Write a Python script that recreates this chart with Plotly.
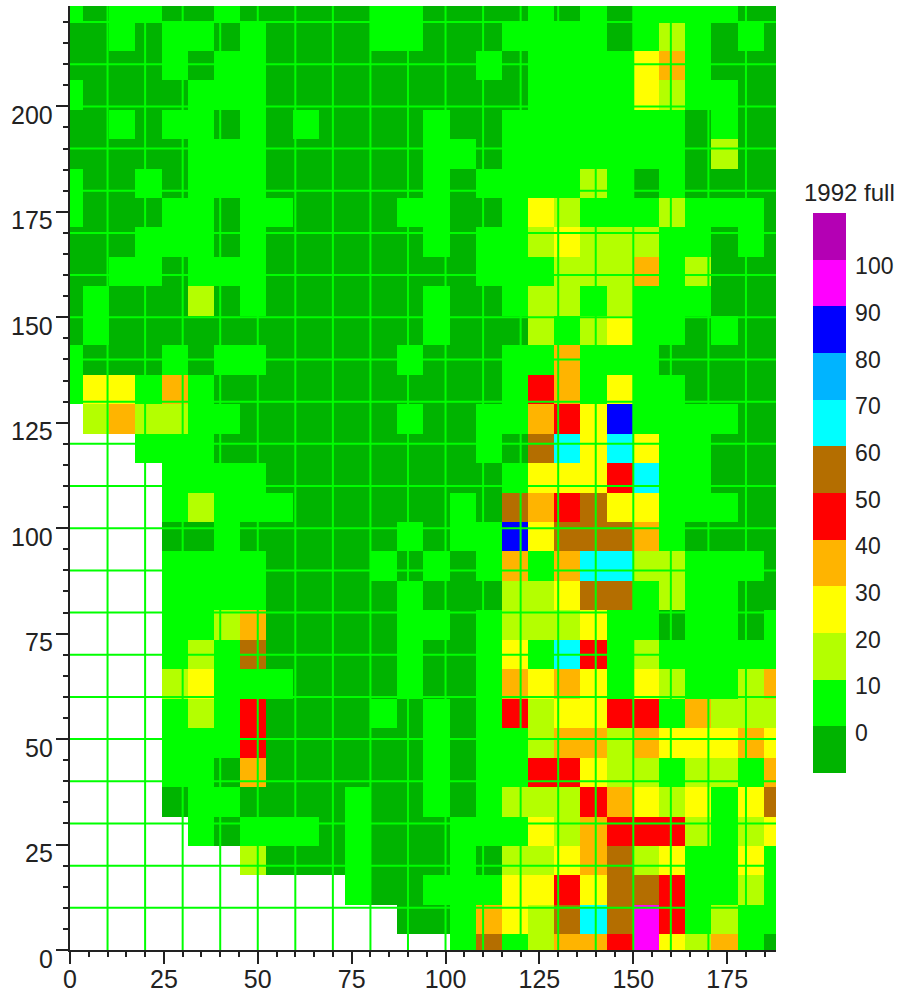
import plotly.graph_objects as go

# Level code per cell; rows run from y = 0 upward, columns from x = 0 rightward.
ROWS = [
    "........." + "......bgb" + "ceefkdceba",
    "........." + "....aabed" + "cghgkfbcbb",
    "........." + "..baabbbd" + "dfdggfbbcb",
    ".......ca" + "aabaaabac" + "cdegcdbbdb",
    ".....babb" + "babaaabbb" + "dcefffcbcd",
    "....abbaa" + "aabaababc" + "ccfedcdbdg",
    "....bbaea" + "aaaaababb" + "ffdccbccbe",
    "....bbbfa" + "aaaaababb" + "ceeceddded",
    "....bcbfa" + "aaabababf" + "cddffbeccc",
    "....cdbbb" + "aaaabaabe" + "dedbdcbbce",
    "....bcbga" + "aaaabaabd" + "bhfbcbbbbb",
    "....bbcea" + "aaaabbabc" + "ccdbbabbab",
    "....bbbba" + "aaaabaaac" + "cdggbcbbaa",
    "....bbbba" + "aaabababe" + "behhccbbba",
    "....aabaa" + "aaaababbj" + "dgggebaaaa",
    "....bcbbb" + "aaaaaabag" + "efgddbbbaa",
    "....bbbba" + "aaaaaaaab" + "dddfhbbaaa",
    "...bbbaaa" + "aaaaaaaba" + "ghdhdbbaaa",
    ".ceccbbaa" + "aaaabaabb" + "efdjbbbbaa",
    "bddbebaaa" + "aaaaaaaab" + "febdbbaaaa",
    "baaababba" + "aaaabaaab" + "bebbbaaaaa",
    "abaaaaaaa" + "aaaaabaaa" + "cbcdbbabaa",
    "abaaacaba" + "aaaaabaab" + "ccbcbbbaaa",
    "aabbabbba" + "aaaaaaabb" + "bcccebcaaa",
    "aaabbbaba" + "aaaaababb" + "cdcccbbaba",
    "baaabbabb" + "aaaabbaab" + "dcbbbcbbba",
    "baababbba" + "aaaaababb" + "bbcbabaaaa",
    "aaaaabbba" + "aaaaabbab" + "bbbbbbacaa",
    "aababbaba" + "baaaabaab" + "bbbbbbabaa",
    "baaaabbba" + "aaaaaaaaa" + "bbbbdcbbaa",
    "aaaababba" + "aaaaaaaba" + "bbbbdebaaa",
    "aababbaba" + "aaabbaaab" + "bbbabcbaba",
    "babbaabaa" + "aaabbaaaa" + "bababbbbaa",
]
LEVEL_VALUES = {"a": -5, "b": 5, "c": 15, "d": 25, "e": 35, "f": 45,
                "g": 55, "h": 65, "i": 75, "j": 85, "k": 95, "l": 105}
LEVEL_COLORS = ["#00b400", "#00ff00", "#b4ff00", "#ffff00", "#ffb400", "#ff0000",
                "#b46e00", "#00ffff", "#00b4ff", "#0000ff", "#ff00ff", "#b400b4"]
LEGEND_LABELS = [0, 10, 20, 30, 40, 50, 60, 70, 80, 90, 100]
Y_LABELS = [0, 25, 50, 75, 100, 125, 150, 175, 200]
CELL_DX = 6.97
CELL_DY = 6.985
ROW_Y0 = 0.15
X_GRID = list(range(10, 190, 10))
Y_GRID = list(range(10, 230, 10))
X_RANGE = [0, 188]
Y_RANGE = [0, 223.8]

z = [[None if c == "." else LEVEL_VALUES[c] for c in row] for row in ROWS]
n = len(LEVEL_COLORS)
scale = []
for i, col in enumerate(LEVEL_COLORS):
    scale += [[i / n, col], [(i + 1) / n, col]]

INK = "#222222"
FONT = dict(family="Liberation Sans", size=25, color=INK)
W, H = 899, 993
L, R, T, B = 70, 776, 6, 950

fig = go.Figure(go.Heatmap(
    z=z, x0=0, dx=CELL_DX, y0=ROW_Y0, dy=CELL_DY,
    zmin=-10, zmax=110, colorscale=scale, hoverongaps=False,
    colorbar=dict(
        thickness=33, thicknessmode="pixels", len=560, lenmode="pixels",
        x=(813 - L) / (R - L), xanchor="left", xpad=0,
        y=(B - 213) / (B - T), yanchor="top", ypad=0,
        outlinewidth=0, borderwidth=0,
        ticks="outside", ticklen=5, tickcolor="rgba(0,0,0,0)",
        tickmode="array",
        tickvals=[v - 1.4 for v in LEGEND_LABELS],
        ticktext=[str(v) for v in LEGEND_LABELS],
        tickfont=dict(family="Liberation Sans", size=23, color=INK),
    ),
))

axis = dict(
    showgrid=False, zeroline=False, showline=True, linecolor=INK, linewidth=2,
    ticks="outside", ticklen=12, tickwidth=2, tickcolor=INK, dtick=25, tick0=0,
    minor=dict(ticks="outside", ticklen=5, tickwidth=2, tickcolor=INK, dtick=5, tick0=0),
    tickfont=FONT, mirror=False,
)
fig.update_xaxes(range=X_RANGE, ticklabelstandoff=-6, **axis)
fig.update_yaxes(range=Y_RANGE, showticklabels=False, **axis)
line = dict(color="#00ff00", width=2)
for v in X_GRID:
    fig.add_shape(type="line", xref="x", yref="paper", x0=v, x1=v, y0=0, y1=1, line=line, layer="above")
for v in Y_GRID:
    fig.add_shape(type="line", xref="paper", yref="y", x0=0, x1=1, y0=v, y1=v, line=line, layer="above")
# The reference prints its y labels just below their ticks, so they are placed as annotations.
for v in Y_LABELS:
    fig.add_annotation(text=str(v), xref="paper", yref="y", x=0, y=v,
                       xanchor="right", yanchor="middle", xshift=-15, yshift=-8.5,
                       showarrow=False, font=FONT)
fig.add_annotation(text="1992 full", xref="paper", yref="paper",
                   x=(849 - L) / (R - L), y=(B - 193) / (B - T),
                   showarrow=False, xanchor="center", yanchor="middle",
                   font=dict(family="Liberation Sans", size=24, color=INK))
fig.update_layout(width=W, height=H, margin=dict(l=L, r=W - R, t=T, b=H - B, pad=0, autoexpand=False),
                  paper_bgcolor="white", plot_bgcolor="white", showlegend=False)
fig.write_html("out.html", config=dict(displayModeBar=False),
               post_script="document.body.style.margin='0';document.documentElement.style.overflow='hidden';")
